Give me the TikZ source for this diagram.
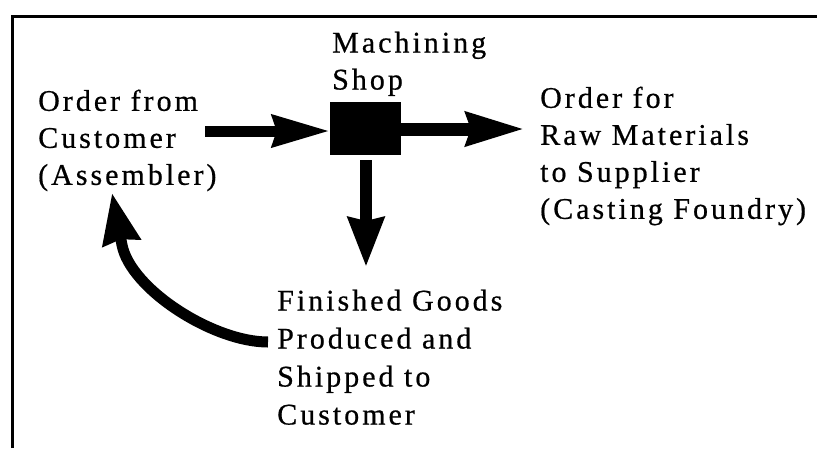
\documentclass[tikz,border=0pt]{standalone}
\usepackage{fontspec}
\setmainfont{Liberation Serif}[LetterSpace=10,FakeBold=0.6]
\usetikzlibrary{arrows.meta}
\begin{document}
\begin{tikzpicture}[x=1pt,y=-1pt,
  lbl/.style={anchor=north west, inner sep=0pt, align=left, font=\fontsize{30}{37}\selectfont},
  frame/.style={line width=3pt},
  box/.style={fill=black, draw=none, minimum width=71pt, minimum height=53pt, inner sep=0pt},
  flowA/.style={line width=11pt, -{Stealth[length=57pt,width=31pt,inset=4pt]}},
  flowB/.style={line width=13pt, -{Stealth[length=58pt,width=32pt,inset=4pt]}},
  flowC/.style={line width=12pt, -{Stealth[length=49pt,width=35pt,inset=3pt]}},
  flowD/.style={line width=11pt, -{Stealth[length=50pt,width=37pt,inset=3pt]}},
]
\useasboundingbox (0,0) rectangle (817,448);
\draw[frame] (12.5,448) -- (12.5,16) -- (817,16);

\node[lbl] (cust) at (38,89.5) {Order from\\Customer\\(Assembler)};
\node[lbl] (shoplbl) at (332,31.5) {Machining\\Shop};
\node[box] (shop) at (365.5,128.5) {};
\node[lbl] (sup) at (540,86.5) {Order for\\Raw Materials\\to Supplier\\(Casting Foundry)};
\node[lbl, font=\fontsize{30}{38}\selectfont] (fin) at (277,289.5) {Finished Goods\\Produced and\\Shipped to\\Customer};

\coordinate (a1) at (205,131);
\coordinate (a2) at (525,129);
\coordinate (a3) at (366,267);
\coordinate (c0) at (268,342);
\coordinate (c1) at (122,245);
\coordinate (c2) at (112,193);

\draw[flowA] (a1) -- (shop.west |- a1);
\draw[flowB] (shop.east |- a2) -- (a2);
\draw[flowC, shorten <=5pt] (shop.south -| a3) -- (a3);
\draw[flowD] (c0) .. controls (213,342) and (130.6,289) .. (c1) -- (c2);
\end{tikzpicture}
\end{document}
